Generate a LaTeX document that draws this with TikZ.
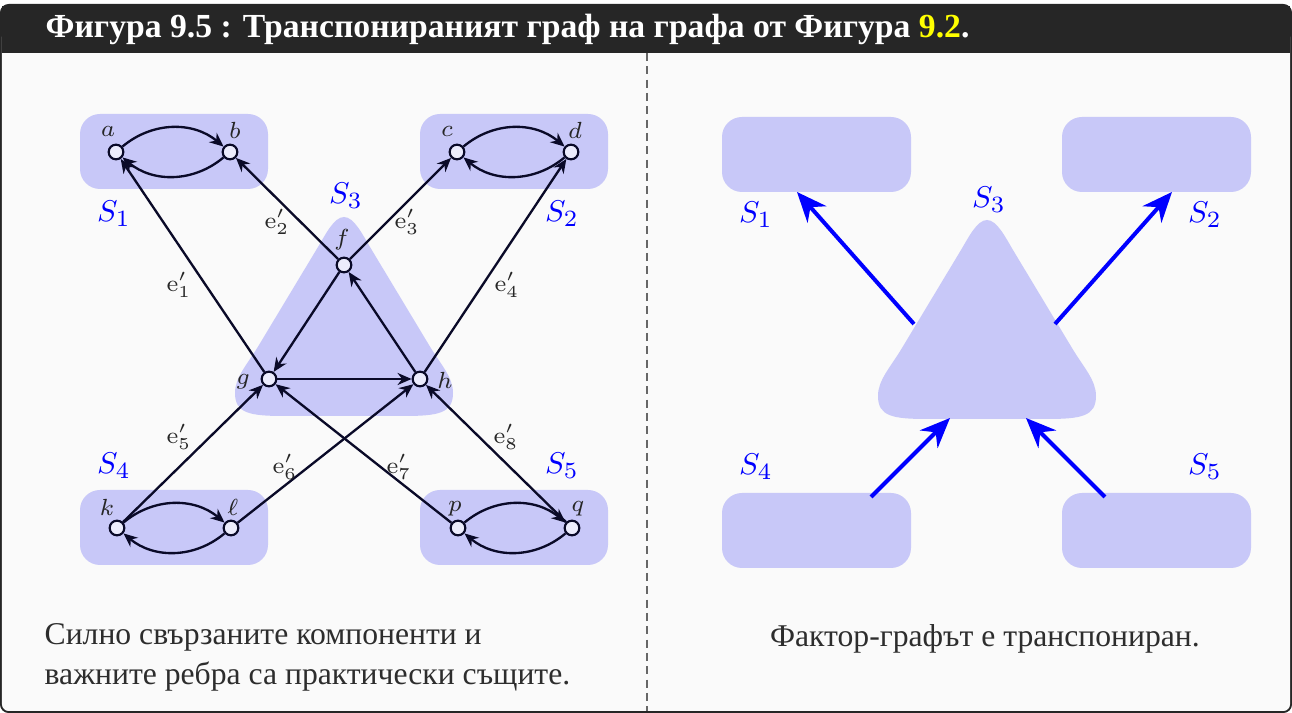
\documentclass[tikz,border=0pt]{standalone}
\usepackage[no-math]{fontspec}
\setmainfont{Liberation Serif}
\usetikzlibrary{arrows.meta}
\definecolor{framecol}{RGB}{38,38,38}
\definecolor{bodybg}{RGB}{250,250,250}
\definecolor{compfill}{RGB}{200,200,248}
\definecolor{vfill}{RGB}{236,236,252}
\definecolor{edgecol}{RGB}{10,10,40}
\definecolor{titleyellow}{RGB}{255,255,0}
\definecolor{captext}{RGB}{45,45,45}
\newcommand\blobshape{(0,0) .. controls (10,0) and (18.8,18) .. (26,30) -- (85,128) .. controls (97,148) and (109,160) .. (109,176) .. controls (109,196) and (95,199) .. (60,199) -- (-60,199) .. controls (-95,199) and (-109,196) .. (-109,176) .. controls (-109,160) and (-97,148) .. (-85,128) -- (-26,30) .. controls (-18.8,18) and (-10,0) .. (0,0) -- cycle}
\begin{document}
\begin{tikzpicture}[x=0.3pt,y=-0.3pt,
  vert/.style={circle,draw=edgecol,fill=vfill,line width=0.65pt,inner sep=0pt,minimum size=4.4pt},
  vlab/.style={font=\scriptsize,text=black!85,inner sep=0pt},
  elab/.style={font=\scriptsize,text=black!85,inner sep=0pt},
  slab/.style={font=\fontsize{9.5}{11}\selectfont,text=blue,inner sep=0pt},
  tedge/.style={-{Stealth[length=4.2pt,width=3.6pt]},draw=edgecol,line width=0.7pt},
  bigarrow/.style={-{Stealth[length=9pt,width=7.5pt]},draw=blue,line width=1.2pt},
  comp/.style={fill=compfill,rounded corners=6pt},
  captxt/.style={font=\fontsize{9.5}{11.4}\selectfont,text=captext,inner sep=0pt},
]
\useasboundingbox (0,0) rectangle (1292,713);
% frame
\fill[framecol,rounded corners=2.6pt] (0,4) rectangle (1292,713);
\fill[bodybg,rounded corners=2pt] (2,30) rectangle (1290,711);
\fill[framecol] (2,6) rectangle (1290,53);
\node[anchor=base west,text=white,font=\bfseries\fontsize{10.1}{12}\selectfont,inner sep=0pt] (title) at (45,38)
  {Фигура 9.5 : Транспонираният граф на графа от Фигура \textcolor{titleyellow}{9.2}.};
\draw[framecol!70,line width=0.4pt,dash pattern=on 2.4pt off 1.6pt] (647,53) -- (647,711);

% ---------- left panel ----------
\fill[comp] (80,114) rectangle (268,189);
\fill[comp] (420,114) rectangle (608,189);
\fill[comp] (80,490) rectangle (268,565);
\fill[comp] (420,490) rectangle (608,565);
\begin{scope}[shift={(344,217)}]
\fill[compfill] \blobshape;
\end{scope}

\node[slab] (ls1) at (114,214) {$S_1$};
\node[slab] (ls2) at (562,214) {$S_2$};
\node[slab] (ls3) at (346,196) {$S_3$};
\node[slab] (ls4) at (114,466) {$S_4$};
\node[slab] (ls5) at (562,466) {$S_5$};

\node[vert] (a) at (116,152) {};
\node[vert] (b) at (230,152) {};
\node[vert] (c) at (457,152) {};
\node[vert] (d) at (571,152) {};
\node[vert] (f) at (344,265) {};
\node[vert] (g) at (269,379) {};
\node[vert] (h) at (420,379) {};
\node[vert] (k) at (117,528) {};
\node[vert] (l) at (231,528) {};
\node[vert] (p) at (458,528) {};
\node[vert] (q) at (572,528) {};

\node[vlab] (la) at (108,131) {$a$};
\node[vlab] (lb) at (235,130) {$b$};
\node[vlab] (lc) at (447,131) {$c$};
\node[vlab] (ld) at (575,130) {$d$};
\node[vlab] (lf) at (342,240) {$f$};
\node[vlab] (lg) at (243,382) {$g$};
\node[vlab] (lh) at (445,380) {$h$};
\node[vlab] (lk) at (107,507) {$k$};
\node[vlab] (ll) at (233,507) {$\ell$};
\node[vlab] (lp) at (455,509) {$p$};
\node[vlab] (lq) at (578,509) {$q$};

\draw[tedge] (a) to[bend left=40] (b);
\draw[tedge] (b) to[bend left=40] (a);
\draw[tedge] (c) to[bend left=40] (d);
\draw[tedge] (d) to[bend left=40] (c);
\draw[tedge] (k) to[bend left=40] (l);
\draw[tedge] (l) to[bend left=40] (k);
\draw[tedge] (p) to[bend left=40] (q);
\draw[tedge] (q) to[bend left=40] (p);

\draw[tedge] (f) -- (g);
\draw[tedge] (g) -- (h);
\draw[tedge] (h) -- (f);

\draw[tedge] (g) -- (a);
\draw[tedge] (f) -- (b);
\draw[tedge] (f) -- (c);
\draw[tedge] (h) -- (d);
\draw[tedge] (k) -- (g);
\draw[tedge] (l) -- (h);
\draw[tedge] (p) -- (g);
\draw[tedge] (q) -- (h);

\node[elab] (e1) at (179,285) {$\mathrm{e}'_1$};
\node[elab] (e2) at (277,222) {$\mathrm{e}'_2$};
\node[elab] (e3) at (407,222) {$\mathrm{e}'_3$};
\node[elab] (e4) at (507,285) {$\mathrm{e}'_4$};
\node[elab] (e5) at (179,437) {$\mathrm{e}'_5$};
\node[elab] (e6) at (285,467) {$\mathrm{e}'_6$};
\node[elab] (e7) at (399,467) {$\mathrm{e}'_7$};
\node[elab] (e8) at (506,437) {$\mathrm{e}'_8$};

\node[captxt,anchor=base west] (capl1) at (44,645) {Силно свързаните компоненти и};
\node[captxt,anchor=base west] (capl2) at (44,685) {важните ребра са практически същите.};

% ---------- right panel ----------
\fill[comp] (722,117) rectangle (911,192);
\fill[comp] (1062,117) rectangle (1251,192);
\fill[comp] (722,493) rectangle (911,568);
\fill[comp] (1062,493) rectangle (1251,568);
\begin{scope}[shift={(987,220)}]
\fill[compfill] \blobshape;
\end{scope}

\node[slab] (rs1) at (756,215) {$S_1$};
\node[slab] (rs2) at (1205,215) {$S_2$};
\node[slab] (rs3) at (989,200) {$S_3$};
\node[slab] (rs4) at (756,467) {$S_4$};
\node[slab] (rs5) at (1205,467) {$S_5$};

\coordinate (o1) at (914,324);
\coordinate (t1) at (797,192);
\coordinate (o2) at (1055,324);
\coordinate (t2) at (1172,192);
\coordinate (o3) at (871,497);
\coordinate (t3) at (950,418);
\coordinate (o4) at (1105,497);
\coordinate (t4) at (1026,418);
\draw[bigarrow] (o1) -- (t1);
\draw[bigarrow] (o2) -- (t2);
\draw[bigarrow] (o3) -- (t3);
\draw[bigarrow] (o4) -- (t4);

\node[captxt,anchor=base] (capr) at (985,647) {Фактор-графът е транспониран.};
\end{tikzpicture}
\end{document}
